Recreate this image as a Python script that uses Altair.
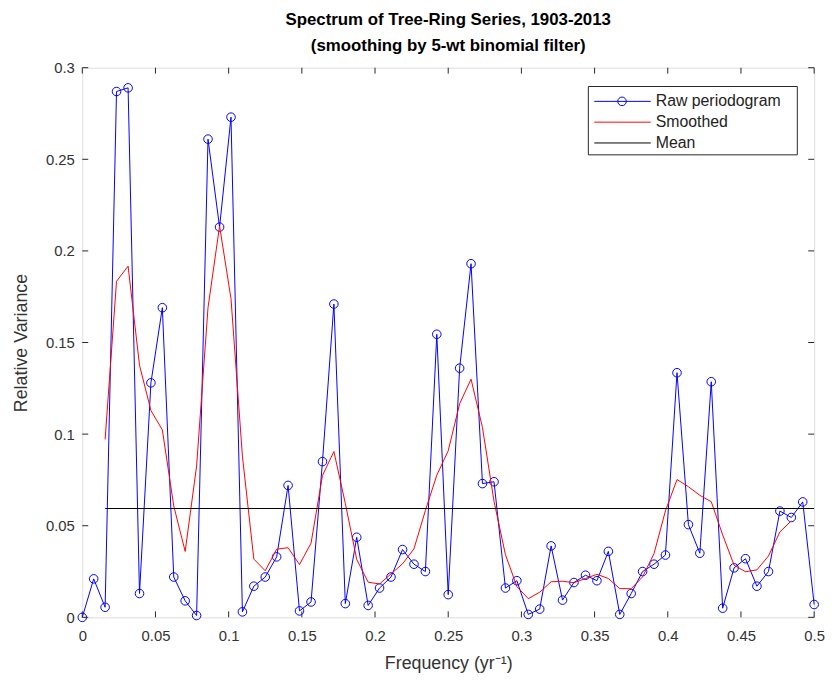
import altair as alt
import pandas as pd

# ---------------- data ----------------
freq = [
    0.0, 0.0078, 0.0156, 0.0234, 0.0313, 0.0391, 0.0469, 0.0547,
    0.0625, 0.0703, 0.0781, 0.0859, 0.0938, 0.1016, 0.1094, 0.1172,
    0.125, 0.1328, 0.1406, 0.1484, 0.1563, 0.1641, 0.1719, 0.1797,
    0.1875, 0.1953, 0.2031, 0.2109, 0.2188, 0.2266, 0.2344, 0.2422,
    0.25, 0.2578, 0.2656, 0.2734, 0.2813, 0.2891, 0.2969, 0.3047,
    0.3125, 0.3203, 0.3281, 0.3359, 0.3438, 0.3516, 0.3594, 0.3672,
    0.375, 0.3828, 0.3906, 0.3984, 0.4063, 0.4141, 0.4219, 0.4297,
    0.4375, 0.4453, 0.4531, 0.4609, 0.4688, 0.4766, 0.4844, 0.4922,
    0.5,
]
raw = [
    0.000, 0.021, 0.0055, 0.287, 0.289, 0.013, 0.128, 0.169,
    0.022, 0.009, 0.001, 0.261, 0.213, 0.273, 0.003, 0.017,
    0.022, 0.033, 0.072, 0.0035, 0.0084, 0.085, 0.171, 0.0075,
    0.0437, 0.0065, 0.016, 0.022, 0.037, 0.029, 0.025, 0.1545,
    0.0124, 0.136, 0.193, 0.073, 0.074, 0.016, 0.020, 0.0016,
    0.0045, 0.039, 0.0094, 0.019, 0.023, 0.020, 0.036, 0.0016,
    0.013, 0.025, 0.029, 0.034, 0.1335, 0.0506, 0.035, 0.1286,
    0.005, 0.027, 0.032, 0.017, 0.025, 0.058, 0.0545, 0.063,
    0.007,
]
smoothed = [
    0.0971, 0.1834, 0.1917, 0.1376, 0.1129, 0.1023, 0.0608, 0.0360,
    0.0826, 0.1690, 0.2136, 0.1740, 0.0880, 0.0318, 0.0254, 0.0372,
    0.0380, 0.0288, 0.0405, 0.0774, 0.0905, 0.0622, 0.0316, 0.0192,
    0.0182, 0.0237, 0.0292, 0.0374, 0.0583, 0.0776, 0.0909, 0.1166,
    0.1300, 0.1036, 0.0633, 0.0342, 0.0168, 0.0102, 0.0137, 0.0194,
    0.0197, 0.0189, 0.0212, 0.0235, 0.0212, 0.0157, 0.0156, 0.0221,
    0.0348, 0.0581, 0.0752, 0.0713, 0.0666, 0.0631, 0.0450, 0.0285,
    0.0249, 0.0259, 0.0335, 0.0466, 0.0527,
]
smoothed_freq = freq[2:63]
mean_value = 0.0594
mean_start = 0.0156
mean_end = 0.5

x_ticks = [0, 0.05, 0.1, 0.15, 0.2, 0.25, 0.3, 0.35, 0.4, 0.45, 0.5]
y_ticks = [0, 0.05, 0.1, 0.15, 0.2, 0.25, 0.3]

legend_labels = ["Raw periodogram", "Smoothed", "Mean"]
legend_colors = ["#0000FF", "#FF0000", "#000000"]

title_lines = ["Spectrum of Tree-Ring Series, 1903-2013",
               "(smoothing by 5-wt binomial filter)"]

# ---------------- styling ----------------
FONT = "Liberation Sans"
W, H = 739, 555
AX = "#262626"
TXT = "#333333"

xscale = alt.Scale(domain=[0, 0.5], nice=False, zero=False)
yscale = alt.Scale(domain=[0, 0.3], nice=False, zero=False)

x_axis = alt.Axis(values=x_ticks, format="~g", title="Frequency (yr⁻¹)",
                  ticks=False, tickSize=0, domain=False, grid=False,
                  labelFont=FONT, labelFontSize=15, labelColor=TXT,
                  labelPadding=11, labelFlush=False,
                  titleFont=FONT, titleFontSize=18, titleColor=TXT,
                  titleFontWeight="normal", titleX=W / 2, titleY=52,
                  titleBaseline="alphabetic")
y_axis = alt.Axis(values=y_ticks, format="~g", title="Relative Variance",
                  ticks=False, tickSize=0, domain=False, grid=False,
                  labelFont=FONT, labelFontSize=15, labelColor=TXT,
                  labelPadding=8, labelFlush=False,
                  titleFont=FONT, titleFontSize=18, titleColor=TXT,
                  titleFontWeight="normal", titleX=-52, titleY=H / 2)

X = alt.X("f:Q", scale=xscale, axis=x_axis)
Y = alt.Y("v:Q", scale=yscale, axis=y_axis)

raw_df = pd.DataFrame({"f": freq, "v": raw})
sm_df = pd.DataFrame({"f": smoothed_freq, "v": smoothed})
mean_df = pd.DataFrame({"f": [mean_start], "f2": [mean_end], "v": [mean_value]})
xt_df = pd.DataFrame({"f": x_ticks})
yt_df = pd.DataFrame({"v": y_ticks})

raw_line = alt.Chart(raw_df).mark_line(color="#0000FF", strokeWidth=1).encode(x=X, y=Y)
raw_pts = alt.Chart(raw_df).mark_point(shape="circle", filled=False, color="#0000FF",
                                       size=75, strokeWidth=1, opacity=1).encode(x=X, y=Y)
sm_line = alt.Chart(sm_df).mark_line(color="#FF0000", strokeWidth=1).encode(x=X, y=Y)
mean_line = alt.Chart(mean_df).mark_rule(color="#000000", strokeWidth=1).encode(
    x=X, x2="f2:Q", y=Y)

TL = 6
tick_bottom = alt.Chart(xt_df).mark_rule(color=AX).encode(
    x=X, y=alt.value(H), y2=alt.value(H - TL))
tick_top = alt.Chart(xt_df).mark_rule(color=AX).encode(
    x=X, y=alt.value(0), y2=alt.value(TL))
tick_left = alt.Chart(yt_df).mark_rule(color=AX).encode(
    y=Y, x=alt.value(0), x2=alt.value(TL))
tick_right = alt.Chart(yt_df).mark_rule(color=AX).encode(
    y=Y, x=alt.value(W), x2=alt.value(W - TL))

# ---------------- legend (manual, MATLAB style) ----------------
one = pd.DataFrame({"a": [0]})
leg_box = alt.Chart(one).mark_rect(fill="white", stroke=AX, strokeWidth=1).encode(
    x=alt.value(511), x2=alt.value(722), y=alt.value(19), y2=alt.value(88))
legend_layers = [leg_box]
for i, (lab, col) in enumerate(zip(legend_labels, legend_colors)):
    yy = 34 + 21 * i
    legend_layers.append(alt.Chart(one).mark_rule(color=col, strokeWidth=1).encode(
        x=alt.value(517), x2=alt.value(574), y=alt.value(yy)))
    legend_layers.append(alt.Chart(pd.DataFrame({"label": [lab]})).mark_text(
        align="left", baseline="middle", font=FONT, fontSize=16, color="#222222").encode(
        x=alt.value(579), y=alt.value(yy), text="label:N"))
legend_layers.append(alt.Chart(one).mark_point(shape="circle", filled=False, color="#0000FF",
                                               size=75, strokeWidth=1, opacity=1).encode(
    x=alt.value(545), y=alt.value(34)))

chart = alt.layer(
    raw_line, raw_pts, sm_line, mean_line,
    tick_bottom, tick_top, tick_left, tick_right,
    *legend_layers,
).properties(
    width=W, height=H,
    title=alt.TitleParams(text=title_lines, font=FONT, fontSize=17, fontWeight="bold",
                          color="#000000", anchor="middle", lineHeight=26, offset=6),
    padding={"left": 75, "top": 57, "right": 16, "bottom": 60},
    autosize="none",
).configure_view(
    stroke=AX, strokeWidth=1
).configure(background="white")

chart.save("out.html", embed_options={"renderer": "svg", "actions": False})
